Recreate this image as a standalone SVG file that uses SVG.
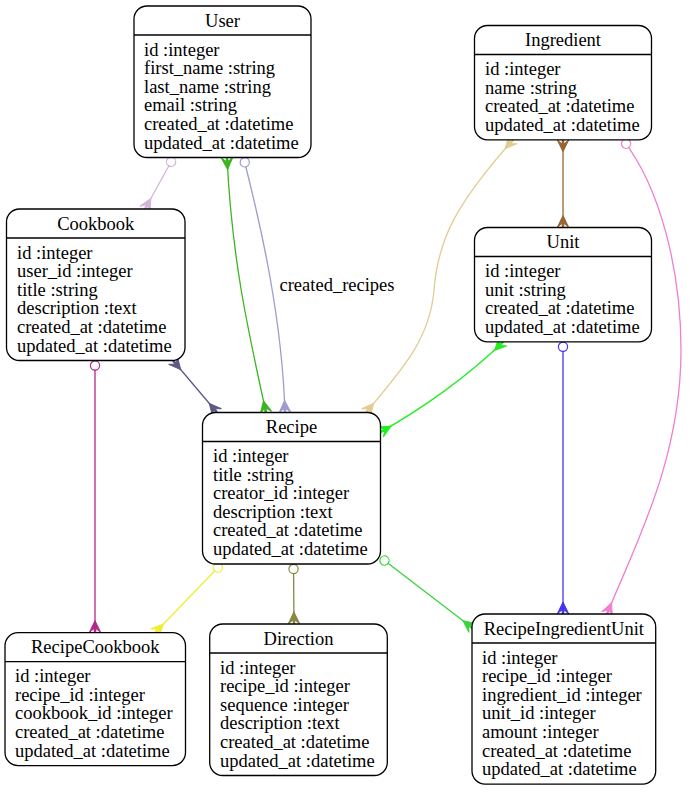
<svg xmlns="http://www.w3.org/2000/svg" width="689" height="791" viewBox="0 0 689 791">
<style>
  .box{fill:#fff;stroke:#000;stroke-width:1.3}
  .hdr{stroke:#000;stroke-width:1.3}
  text{font-family:"Liberation Serif","Times New Roman","DejaVu Serif",serif;font-size:18.5px;fill:#000}
  .t{text-anchor:middle}
  .e{fill:none;stroke-width:1.3}
</style>
<defs>
  <path id="crowp" d="M-12,0 L0,-5.8 L-4.2,-1 L0,-0.6 L0,0.6 L-4.2,1 L0,5.8 Z"/>
  <circle id="dotp" cx="5" cy="0" r="4.6"/>
  <marker id="c-thistle" markerUnits="userSpaceOnUse" orient="auto-start-reverse" overflow="visible"><use href="#crowp" fill="#d4b4da" stroke="#d4b4da" stroke-width="1"/></marker>
  <marker id="o-thistle" markerUnits="userSpaceOnUse" orient="auto" overflow="visible"><use href="#dotp" fill="#fff" stroke="#d4b4da" stroke-width="1.2"/></marker>
  <marker id="c-green" markerUnits="userSpaceOnUse" orient="auto-start-reverse" overflow="visible"><use href="#crowp" fill="#3cb521" stroke="#3cb521" stroke-width="1"/></marker>
  <marker id="c-lav" markerUnits="userSpaceOnUse" orient="auto-start-reverse" overflow="visible"><use href="#crowp" fill="#9c9ccf" stroke="#9c9ccf" stroke-width="1"/></marker>
  <marker id="o-lav" markerUnits="userSpaceOnUse" orient="auto" overflow="visible"><use href="#dotp" fill="#fff" stroke="#9c9ccf" stroke-width="1.2"/></marker>
  <marker id="c-slate" markerUnits="userSpaceOnUse" orient="auto-start-reverse" overflow="visible"><use href="#crowp" fill="#5b5a85" stroke="#5b5a85" stroke-width="1"/></marker>
  <marker id="c-mag" markerUnits="userSpaceOnUse" orient="auto-start-reverse" overflow="visible"><use href="#crowp" fill="#b0288c" stroke="#b0288c" stroke-width="1"/></marker>
  <marker id="o-mag" markerUnits="userSpaceOnUse" orient="auto" overflow="visible"><use href="#dotp" fill="#fff" stroke="#b0288c" stroke-width="1.2"/></marker>
  <marker id="c-tan" markerUnits="userSpaceOnUse" orient="auto-start-reverse" overflow="visible"><use href="#crowp" fill="#e2cc92" stroke="#e2cc92" stroke-width="1"/></marker>
  <marker id="c-brown" markerUnits="userSpaceOnUse" orient="auto-start-reverse" overflow="visible"><use href="#crowp" fill="#996633" stroke="#996633" stroke-width="1"/></marker>
  <marker id="c-pink" markerUnits="userSpaceOnUse" orient="auto-start-reverse" overflow="visible"><use href="#crowp" fill="#f07ed2" stroke="#f07ed2" stroke-width="1"/></marker>
  <marker id="o-pink" markerUnits="userSpaceOnUse" orient="auto" overflow="visible"><use href="#dotp" fill="#fff" stroke="#f07ed2" stroke-width="1.2"/></marker>
  <marker id="c-lime" markerUnits="userSpaceOnUse" orient="auto-start-reverse" overflow="visible"><use href="#crowp" fill="#22ee22" stroke="#22ee22" stroke-width="1"/></marker>
  <marker id="c-blue" markerUnits="userSpaceOnUse" orient="auto-start-reverse" overflow="visible"><use href="#crowp" fill="#4433ee" stroke="#4433ee" stroke-width="1"/></marker>
  <marker id="o-blue" markerUnits="userSpaceOnUse" orient="auto" overflow="visible"><use href="#dotp" fill="#fff" stroke="#4433ee" stroke-width="1.2"/></marker>
  <marker id="c-yel" markerUnits="userSpaceOnUse" orient="auto-start-reverse" overflow="visible"><use href="#crowp" fill="#eeee33" stroke="#eeee33" stroke-width="1"/></marker>
  <marker id="o-yel" markerUnits="userSpaceOnUse" orient="auto" overflow="visible"><use href="#dotp" fill="#fff" stroke="#eeee33" stroke-width="1.2"/></marker>
  <marker id="c-olive" markerUnits="userSpaceOnUse" orient="auto-start-reverse" overflow="visible"><use href="#crowp" fill="#888844" stroke="#888844" stroke-width="1"/></marker>
  <marker id="o-olive" markerUnits="userSpaceOnUse" orient="auto" overflow="visible"><use href="#dotp" fill="#fff" stroke="#888844" stroke-width="1.2"/></marker>
  <marker id="c-g2" markerUnits="userSpaceOnUse" orient="auto-start-reverse" overflow="visible"><use href="#crowp" fill="#3ad43a" stroke="#3ad43a" stroke-width="1"/></marker>
  <marker id="o-g2" markerUnits="userSpaceOnUse" orient="auto" overflow="visible"><use href="#dotp" fill="#fff" stroke="#3ad43a" stroke-width="1.2"/></marker>
</defs>
<rect width="689" height="791" fill="#fff"/>

<g id="connectors">
  <path class="e" stroke="#d4b4da" d="M173.5,157.5 L145,209" marker-start="url(#o-thistle)" marker-end="url(#c-thistle)"/>
  <path class="e" stroke="#3cb521" d="M227,157.5 C232,260 248,330 266,412.5" marker-start="url(#c-green)" marker-end="url(#c-green)"/>
  <path class="e" stroke="#9c9ccf" d="M243.5,157.5 C262,230 282,320 285,412.5" marker-start="url(#o-lav)" marker-end="url(#c-lav)"/>
  <text x="337" y="291" class="t">created_recipes</text>
  <path class="e" stroke="#5b5a85" d="M173,360.5 L217,412.5" marker-start="url(#c-slate)" marker-end="url(#c-slate)"/>
  <path class="e" stroke="#b0288c" d="M95,360.5 L95,632.7" marker-start="url(#o-mag)" marker-end="url(#c-mag)"/>
  <path class="e" stroke="#e2cc92" d="M513,139.8 C455,205 438,240 434,290 C430,340 400,372 366,412.5" marker-start="url(#c-tan)" marker-end="url(#c-tan)"/>
  <path class="e" stroke="#996633" d="M563,139.8 L563,227.5" marker-start="url(#c-brown)" marker-end="url(#c-brown)"/>
  <path class="e" stroke="#f07ed2" d="M623,139.8 C660,187 681,270 681,350 C681,460 635,545 607,614" marker-start="url(#o-pink)" marker-end="url(#c-pink)"/>
  <path class="e" stroke="#22ee22" d="M503,341.8 C470,375 420,410 380.5,432" marker-start="url(#c-lime)" marker-end="url(#c-lime)"/>
  <path class="e" stroke="#4433ee" d="M563,341.8 L563,614" marker-start="url(#o-blue)" marker-end="url(#c-blue)"/>
  <path class="e" stroke="#eeee33" d="M221.4,564 L155,632.7" marker-start="url(#o-yel)" marker-end="url(#c-yel)"/>
  <path class="e" stroke="#888844" d="M293.5,564 L294,624" marker-start="url(#o-olive)" marker-end="url(#c-olive)"/>
  <path class="e" stroke="#3ad43a" d="M380.5,557.5 L472.5,628" marker-start="url(#o-g2)" marker-end="url(#c-g2)"/>
</g>

<g id="User">
  <rect class="box" x="134" y="6" width="177" height="151.5" rx="13"/>
  <line class="hdr" x1="134" y1="35" x2="311" y2="35"/>
  <text x="222.5" y="26.5" class="t">User</text>
  <text x="144" y="55.5">id :integer</text>
  <text x="144" y="74.1">first_name :string</text>
  <text x="144" y="92.7">last_name :string</text>
  <text x="144" y="111.3">email :string</text>
  <text x="144" y="129.9">created_at :datetime</text>
  <text x="144" y="148.5">updated_at :datetime</text>
</g>

<g id="Ingredient">
  <rect class="box" x="474.5" y="25.5" width="177" height="114.3" rx="13"/>
  <line class="hdr" x1="474.5" y1="54.5" x2="651.5" y2="54.5"/>
  <text x="563" y="46" class="t">Ingredient</text>
  <text x="485" y="75">id :integer</text>
  <text x="485" y="93.6">name :string</text>
  <text x="485" y="112.2">created_at :datetime</text>
  <text x="485" y="130.8">updated_at :datetime</text>
</g>

<g id="Cookbook">
  <rect class="box" x="6.5" y="209" width="178.5" height="151.5" rx="13"/>
  <line class="hdr" x1="6.5" y1="238" x2="185" y2="238"/>
  <text x="95.75" y="229.5" class="t">Cookbook</text>
  <text x="17" y="258.5">id :integer</text>
  <text x="17" y="277.1">user_id :integer</text>
  <text x="17" y="295.7">title :string</text>
  <text x="17" y="314.3">description :text</text>
  <text x="17" y="332.9">created_at :datetime</text>
  <text x="17" y="351.5">updated_at :datetime</text>
</g>

<g id="Unit">
  <rect class="box" x="474.5" y="227.5" width="177" height="114.3" rx="13"/>
  <line class="hdr" x1="474.5" y1="256.5" x2="651.5" y2="256.5"/>
  <text x="563" y="248" class="t">Unit</text>
  <text x="485" y="277">id :integer</text>
  <text x="485" y="295.6">unit :string</text>
  <text x="485" y="314.2">created_at :datetime</text>
  <text x="485" y="332.8">updated_at :datetime</text>
</g>

<g id="Recipe">
  <rect class="box" x="202.5" y="412.5" width="178" height="151.5" rx="13"/>
  <line class="hdr" x1="202.5" y1="441.5" x2="380.5" y2="441.5"/>
  <text x="291.5" y="433" class="t">Recipe</text>
  <text x="213" y="462">id :integer</text>
  <text x="213" y="480.6">title :string</text>
  <text x="213" y="499.2">creator_id :integer</text>
  <text x="213" y="517.8">description :text</text>
  <text x="213" y="536.4">created_at :datetime</text>
  <text x="213" y="555">updated_at :datetime</text>
</g>

<g id="RecipeCookbook">
  <rect class="box" x="5" y="632.7" width="180.5" height="132.9" rx="13"/>
  <line class="hdr" x1="5" y1="661.7" x2="185.5" y2="661.7"/>
  <text x="95.25" y="653.2" class="t">RecipeCookbook</text>
  <text x="15" y="682.2">id :integer</text>
  <text x="15" y="700.8">recipe_id :integer</text>
  <text x="15" y="719.4">cookbook_id :integer</text>
  <text x="15" y="738">created_at :datetime</text>
  <text x="15" y="756.6">updated_at :datetime</text>
</g>

<g id="Direction">
  <rect class="box" x="209.7" y="624" width="177.6" height="151.5" rx="13"/>
  <line class="hdr" x1="209.7" y1="653" x2="387.3" y2="653"/>
  <text x="298.5" y="644.5" class="t">Direction</text>
  <text x="220" y="673.5">id :integer</text>
  <text x="220" y="692.1">recipe_id :integer</text>
  <text x="220" y="710.7">sequence :integer</text>
  <text x="220" y="729.3">description :text</text>
  <text x="220" y="747.9">created_at :datetime</text>
  <text x="220" y="766.5">updated_at :datetime</text>
</g>

<g id="RecipeIngredientUnit">
  <rect class="box" x="472" y="614" width="183.7" height="170.1" rx="13"/>
  <line class="hdr" x1="472" y1="643" x2="655.7" y2="643"/>
  <text x="563.85" y="634.5" class="t">RecipeIngredientUnit</text>
  <text x="482" y="663.5">id :integer</text>
  <text x="482" y="682.1">recipe_id :integer</text>
  <text x="482" y="700.7">ingredient_id :integer</text>
  <text x="482" y="719.3">unit_id :integer</text>
  <text x="482" y="737.9">amount :integer</text>
  <text x="482" y="756.5">created_at :datetime</text>
  <text x="482" y="775.1">updated_at :datetime</text>
</g>
</svg>
